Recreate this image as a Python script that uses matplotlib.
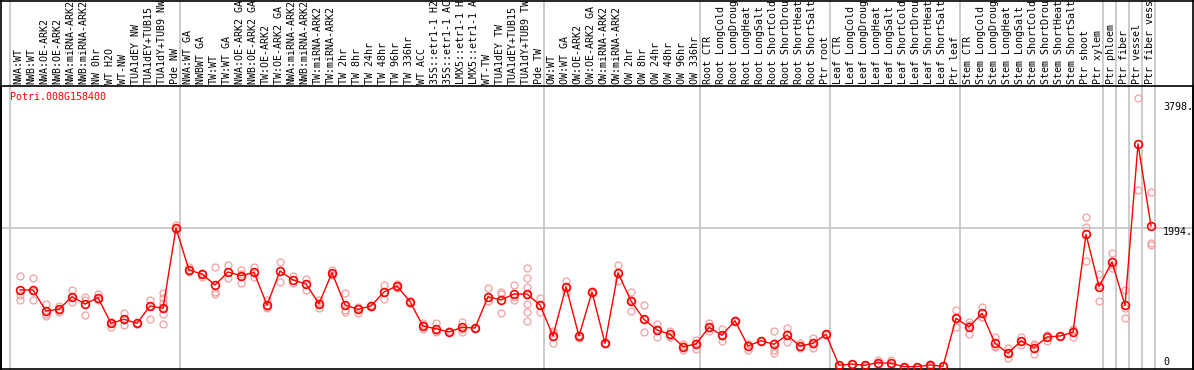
import matplotlib
matplotlib.use("Agg")
import matplotlib.pyplot as plt
from matplotlib.lines import Line2D

# Data
gene = "Potri.008G158400"
samples = [
    "NWA:WT", "NWB:WT", "NWA:OE-ARK2", "NWB:OE-ARK2", "NWA:miRNA-ARK2", "NWB:miRNA-ARK2",
    "NW 0hr", "WT H2O", "WT-NW", "TUA1dEY NW", "TUA1dEY+TUB15", "TUA1dY+TUB9 NW", "Pde NW",
    "NWA:WT GA", "NWBWT GA", "TW:WT", "TW:WT GA", "NWA:OE-ARK2 GA", "NWB:OE-ARK2 GA",
    "TW:OE-ARK2", "TW:OE-ARK2 GA", "NWA:miRNA-ARK2", "NWB:miRNA-ARK2", "TW:miRNA-ARK2",
    "TW:miRNA-ARK2", "TW 2hr", "TW 8hr", "TW 24hr", "TW 48hr", "TW 96hr", "TW 336hr",
    "WT ACC", "35S::etr1-1 H2", "35S::etr1-1 AC", "LMX5::etr1-1 H", "LMX5::etr1-1 A",
    "WT-TW", "TUA1dEY TW", "TUA1dEY+TUB15", "TUA1dY+TUB9 TW", "Pde TW",
    "OW:WT", "OW:WT GA", "OW:OE-ARK2", "OW:OE-ARK2 GA", "OW:miRNA-ARK2", "OW:miRNA-ARK2",
    "OW 2hr", "OW 8hr", "OW 24hr", "OW 48hr", "OW 96hr", "OW 336hr",
    "Root CTR", "Root LongCold", "Root LongDroug", "Root LongHeat", "Root LongSalt",
    "Root ShortCold", "Root ShortDrou", "Root ShortHeat", "Root ShortSalt", "Ptr root",
    "Leaf CTR", "Leaf LongCold", "Leaf LongDroug", "Leaf LongHeat", "Leaf LongSalt",
    "Leaf ShortCold", "Leaf ShortDrou", "Leaf ShortHeat", "Leaf ShortSalt", "Ptr leaf",
    "Stem CTR", "Stem LongCold", "Stem LongDroug", "Stem LongHeat", "Stem LongSalt",
    "Stem ShortCold", "Stem ShortDrou", "Stem ShortHeat", "Stem ShortSalt", "Ptr shoot",
    "Ptr xylem", "Ptr phloem", "Ptr fiber", "Ptr vessel", "Ptr fiber vess",
]
means = [
    1105, 1105, 803, 828, 1009, 904, 994, 627, 684, 627, 875, 842, 1990,
    1391, 1334, 1176, 1363, 1310, 1358, 889, 1377, 1248, 1191, 908, 1353, 889, 828, 875,
    1076, 1162, 937, 588, 549, 502, 569, 559, 1009, 961, 1047, 1047, 889,
    445, 1152, 445, 1076, 340, 1353, 947, 684, 531, 469, 291,
    330, 569, 455, 664, 301, 377, 326, 459, 301, 340,
    469, 24, 43, 24, 62, 53, 5, 5, 29, 10,
    699, 574, 770, 340, 196, 373, 277, 430, 445, 498,
    1904, 1152, 1506, 885, 3199, 2023,
]
replicates = [
    [1305, 1030, 961], [1272, 1094, 961], [899, 760, 731], [875, 793, 815],
    [1105, 928, 1009], [1009, 961, 742], [1043, 980, 961], [640, 627, 578],
    [779, 674, 602], [627, 620, 634], [961, 880, 684], [1057, 985, 914, 842, 760, 617],
    [2030, 1990, 1960],
    [1439, 1367, 1391], [1353, 1334, 1286], [1439, 1081, 1047], [1463, 1272],
    [1391, 1340, 1200], [1439, 1286], [961, 865, 842], [1511, 1224], [1305, 1200],
    [1258, 1105], [961, 920, 842], [1391, 1353, 1320], [1057, 818, 793],
    [865, 840, 779], [890, 875, 860], [1176, 1080, 971], [1191, 1162, 1140],
    [950, 937, 925], [627, 596, 541], [627, 512, 507], [502, 495, 510],
    [650, 550, 507], [559, 565, 553], [1129, 951, 947], [1081, 1047, 779],
    [1176, 1000, 961], [1415, 1272, 1143, 1033, 899, 784, 660], [985, 890, 793],
    [483, 512, 340], [1234, 1152, 1081], [412, 460, 463], [1085, 1076, 1067],
    [340, 345, 335], [1463, 1358, 1238], [1071, 967, 803], [889, 684, 507],
    [612, 545, 435], [521, 450, 436], [330, 300, 244],
    [387, 350, 254], [627, 560, 520], [541, 447, 377], [664, 670, 658],
    [244, 330, 330], [377, 380, 374], [516, 350, 244, 196], [555, 468, 354],
    [349, 280, 275], [421, 330, 268],
    [469, 475, 463], [24, 20, 28], [43, 40, 46], [24, 20, 28], [100, 50, 36],
    [100, 35, 25], [5, 4, 6], [5, 4, 6], [43, 25, 20], [10, 8, 12],
    [818, 710, 569], [650, 602, 469], [865, 722, 722], [435, 300, 283],
    [268, 196, 124], [435, 368, 316], [330, 315, 186], [459, 455, 377],
    [445, 450, 440], [541, 527, 426],
    [2147, 2004, 1525], [1334, 1175, 947], [1631, 1470, 1416], [1105, 850, 699],
    [3854, 2539], [2515, 1783, 1750],
]
separators_after = [12, 40, 52, 62, 72, 83, 84, 85, 86, 87]
ref_ticks = [3798, 1994, 0]
tick_labels = ["3798.", "1994.", "0"]

W, H = 1194, 370
fig = plt.figure(figsize=(W / 100, H / 100), dpi=100)
ax = fig.add_axes([1 / W, 1.5 / H, 1192 / W, (H - 86 - 1.5) / H])

ax.set_xlim((1 - 20) / 13, (1193 - 20) / 13)
ax.set_ylim(-21.5, 4031)
ax.set_xticks([])
ax.set_yticks([])
for s in ax.spines.values():
    s.set_color("black")
    s.set_linewidth(1.2)

mono = "DejaVu Sans Mono"
top_ext = (H - 1.5) / (H - 86 - 1.5)

# vertical group separators, running through the label band too
gray = "#c4c4c4"
ax.axvline(-0.75, ymin=0, ymax=top_ext, color=gray, lw=1.2, clip_on=False, zorder=0)
for i in separators_after:
    ax.axvline(i + 0.32, ymin=0, ymax=top_ext, color=gray, lw=1.2, clip_on=False, zorder=0)
ax.axhline(1994, color=gray, lw=1.2, zorder=0)

# replicates
for i, reps in enumerate(replicates):
    ax.plot([i] * len(reps), reps, "o", ms=5, mfc="none", mec="#f2a4a4", mew=0.95,
            zorder=2, clip_on=False)

# mean line
x = list(range(len(means)))
ax.plot(x, means, "-", color="red", lw=1.0, zorder=3)
ax.plot(x, means, "o", ms=5.6, mfc="none", mec="red", mew=1.2, zorder=4, clip_on=False)

# sample labels in the band above the plot
for i, name in enumerate(samples):
    ax.annotate(name, xy=(i, 1), xycoords=("data", "axes fraction"),
                xytext=(-1, 1.5), textcoords="offset points",
                rotation=90, ha="center", va="bottom", fontsize=7.2,
                family=mono, annotation_clip=False)

# gene id
ax.text(9 / 1192, 1 - 11 / 282.5, gene, transform=ax.transAxes, color="red",
        fontsize=7.2, family=mono, ha="left", va="center")

# right-side reference values
offsets = [-3.5, -3, 3.5]
for v, lab, off in zip(ref_ticks, tick_labels, offsets):
    ax.annotate(lab, xy=((1163 - 20) / 13, v), xytext=(0, off),
                textcoords="offset points", ha="left", va="center",
                fontsize=7.2, family=mono, annotation_clip=False)

# frame of the whole picture
fig.add_artist(Line2D([0, 1], [1 - 0.5 / H, 1 - 0.5 / H], color="black", lw=1.2,
                      transform=fig.transFigure))
fig.add_artist(Line2D([1 / W, 1 / W], [0, 1], color="black", lw=1.2,
                      transform=fig.transFigure))
fig.add_artist(Line2D([1193 / W, 1193 / W], [0, 1], color="black", lw=1.2,
                      transform=fig.transFigure))

fig.savefig("out.png", dpi=100)
